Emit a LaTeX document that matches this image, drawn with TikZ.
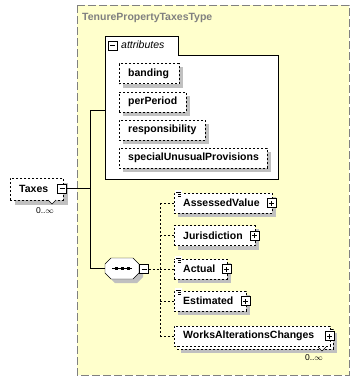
\documentclass[tikz,border=0pt]{standalone}
\usepackage{fontspec}
\setmainfont{Liberation Sans}
\usetikzlibrary{calc,positioning}

\definecolor{typefill}{RGB}{255,255,204}
\definecolor{typeborder}{RGB}{128,128,128}
\definecolor{shadowgray}{RGB}{192,192,192}

\pgfdeclarelayer{frame}
\pgfdeclarelayer{shade}
\pgfsetlayers{frame,shade,main}

\tikzset{
  elem/.style={draw, dash pattern=on 2pt off 2pt, fill=white, anchor=west,
    minimum height=20pt, inner xsep=9pt, inner ysep=0pt,
    font=\bfseries\fontsize{10.5}{12}\selectfont},
  btn/.style={draw, solid, fill=white, minimum size=9pt, inner sep=0pt},
  btnminus/.style={btn, path picture={
    \draw ([xshift=2pt]path picture bounding box.west) -- ([xshift=-2pt]path picture bounding box.east);}},
  btnplus/.style={btn, path picture={
    \draw ([xshift=2pt]path picture bounding box.west) -- ([xshift=-2pt]path picture bounding box.east);
    \draw ([yshift=2pt]path picture bounding box.south) -- ([yshift=-2pt]path picture bounding box.north);}},
  occurs/.style={font=\fontsize{8.5}{9}\selectfont, inner sep=0pt},
  link/.style={dash pattern=on 2pt off 2pt},
}

\begin{document}
\begin{tikzpicture}[x=1pt,y=-1pt]
\useasboundingbox (0,0) rectangle (361,381);

\begin{pgfonlayer}{frame}
% Complex type frame
\draw[typeborder, fill=typefill, dash pattern=on 8pt off 3pt] (77,5) rectangle (349,375);
% Attributes group with its tab
\draw[fill=white] (105,36) -- (178,36) -- (178,55) -- (278,55) -- (278,179) -- (105,179) -- cycle;
\end{pgfonlayer}

\node[anchor=west, inner sep=0pt, text=typeborder,
  font=\bfseries\fontsize{10.5}{12}\selectfont] (typeName) at (82,18) {TenurePropertyTaxesType};
\node[btnminus] (attrsBtn) at (112.5,45.5) {};
\node[anchor=west, inner sep=0pt, font=\itshape\fontsize{10.5}{12}\selectfont] (attrsLabel) at (121,45) {attributes};
\coordinate (attrsIn) at (105,110);

% Attributes
\node[elem, text width=42pt] (banding) at (119,73.5) {banding};
\node[elem, text width=49pt] (perPeriod) at (119,102) {perPeriod};
\node[elem, text width=68pt] (responsibility) at (119,130) {responsibility};
\node[elem, text width=130pt] (special) at (119,158) {specialUnusualProvisions};

% Root element
\node[elem, minimum height=22pt, text width=35pt] (taxes) at (10,189) {Taxes};
\draw[fill=white] (48,200) -- (52,204) -- (56,200);
\node[btnminus] (taxesBtn) at (62,188.5) {};
\node[occurs] (taxesOcc) at (45,211) {0..$\infty$};

% Sequence compositor
\node[minimum width=34pt, minimum height=21pt, inner sep=0pt] (seq) at (122,268.5) {};
\draw[fill=white] (111,258) -- (133,258) -- (139,264) -- (139,273)
  -- (133,279) -- (111,279) -- (105,273) -- (105,264) -- cycle;
\draw ($(seq.center)+(-10,0)$) -- ($(seq.center)+(10,0)$);
\foreach \dx in {-6,0,6}
  \fill ($(seq.center)+(\dx-1.5,-1.5)$) rectangle ++(3,3);
\node[btnminus] (seqBtn) at (144,269) {};

% Child elements
\node[elem, text width=80pt] (assessed) at (174,203) {AssessedValue};
\node[elem, text width=63pt] (jurisdiction) at (174,235.5) {Jurisdiction};
\node[elem, text width=35pt] (actual) at (174,269) {Actual};
\node[elem, text width=54pt] (estimated) at (174,301) {Estimated};
\node[elem, text width=138pt] (worksBack) at (177,339) {\phantom{W}};
\node[elem, text width=138pt] (works) at (174,336) {WorksAlterationsChanges};
\draw[fill=white] (318,347) -- (322,351) -- (326,347);
\node[occurs] (worksOcc) at (314,358) {0..$\infty$};

% Expand buttons
\node[btnplus] at ([xshift=-1pt]assessed.east) {};
\node[btnplus] at ([xshift=-1pt]jurisdiction.east) {};
\node[btnplus] at ([xshift=-1pt]actual.east) {};
\node[btnplus] at ([xshift=-1pt]estimated.east) {};
\node[btnplus] at ([xshift=-1pt]works.east) {};

% Simple content marks
\foreach \n in {assessed,actual,estimated} {
  \fill[white] ($(\n.north west)+(1,-3)$) rectangle ($(\n.north west)+(8,4)$);
  \draw ($(\n.north west)+(2,-1)$) -- ($(\n.north west)+(7,-1)$);
  \draw ($(\n.north west)+(4,1)$) -- ($(\n.north west)+(7,1)$);
  \draw ($(\n.north west)+(4,3)$) -- ($(\n.north west)+(7,3)$);
}

% Shadows under the boxes
\begin{pgfonlayer}{shade}
\foreach \n in {banding,perPeriod,responsibility,special,assessed,jurisdiction,actual,estimated,worksBack}
  \fill[shadowgray] ($(\n.north west)+(4,4)$) rectangle ($(\n.south east)+(4,4)$);
\fill[shadowgray] ($(taxes.north west)+(5,5)$) rectangle ($(taxes.south east)+(5,5)$);
\fill[shadowgray, shift={(4,4)}] (111,258) -- (133,258) -- (139,264) -- (139,273)
  -- (133,279) -- (111,279) -- (105,273) -- (105,264) -- cycle;
\end{pgfonlayer}

% Connectors from the root
\coordinate (jTop) at (90,110);
\coordinate (jBot) at (90,268.5);
\draw (taxesBtn.east) -- (taxesBtn.east -| jTop);
\draw (attrsIn) -- (jTop) -- (jBot) -- (seq.west);

% Connectors from the sequence
\coordinate (seqTop) at (160,203);
\coordinate (seqBot) at (160,336);
\draw[link] (seqBtn.east) -- (seqBtn.east -| seqTop);
\draw[link] (seqTop) -- (seqBot);
\foreach \n in {assessed,jurisdiction,actual,estimated,works}
  \draw[link] (\n.west -| seqTop) -- (\n.west);

\end{tikzpicture}
\end{document}
